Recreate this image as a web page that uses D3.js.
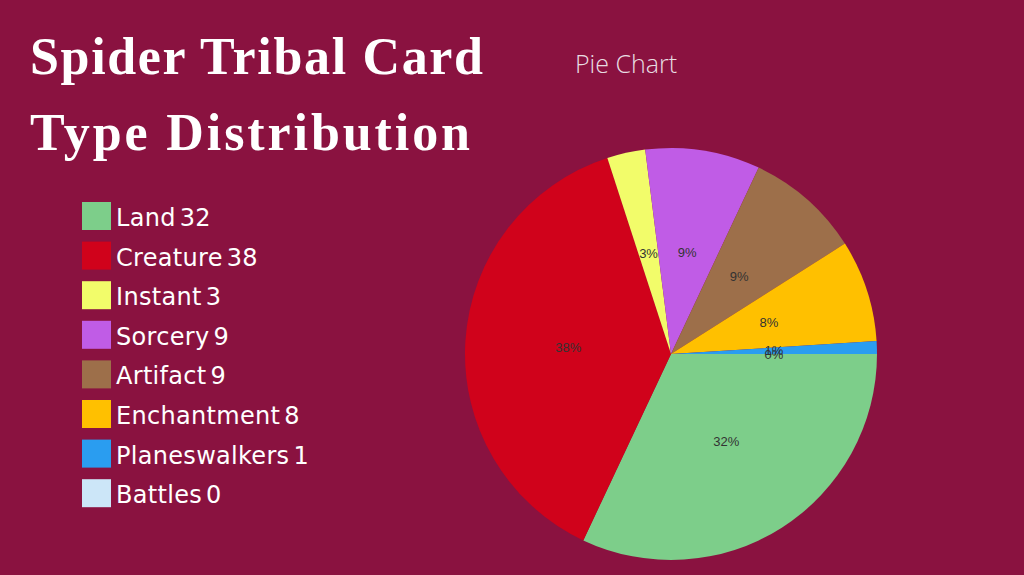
<!DOCTYPE html><html><head><meta charset="utf-8">
<script src="https://cdn.jsdelivr.net/npm/d3@7"></script>
<style>body{margin:0;background:#8a1240;}</style></head><body>
<svg id="c" width="1024" height="575"></svg>
<script>
const categories=["Land","Creature","Instant","Sorcery","Artifact","Enchantment","Planeswalkers","Battles"];
const values=[32,38,3,9,9,8,1,0];
const colors=["#7dce8a","#d0021b","#f2fc6a","#c05ce6","#9d6f4a","#ffc000","#2a9df0","#cce6f8"];
const svg=d3.select("#c");
svg.append("rect").attr("width",1024).attr("height",575).attr("fill","#8a1240");
const t=svg.append("text").attr("fill","#fff").attr("font-family","Liberation Serif, serif").attr("font-weight","bold").attr("font-size",52);
t.append("tspan").attr("x",30).attr("y",74).attr("textLength",453).text("Spider Tribal Card");
t.append("tspan").attr("x",30).attr("y",150).attr("textLength",440).text("Type Distribution");
svg.append("text").attr("x",575).attr("y",73).attr("fill","#e8dde2").attr("font-family","Open Sans, sans-serif").attr("font-weight",300).attr("font-size",25).text("Pie Chart");
const lg=svg.append("g");
categories.forEach((c,i)=>{
  const y=202+i*39.6;
  lg.append("rect").attr("x",82).attr("y",y).attr("width",29).attr("height",28).attr("fill",colors[i]);
  const tx=lg.append("text").attr("x",116).attr("y",y+24).attr("fill","#fff").attr("font-family","DejaVu Sans, sans-serif").attr("font-size",24).attr("letter-spacing",0.3);
  tx.append("tspan").text(c);
  tx.append("tspan").attr("dx",4).text(values[i]);
});
const total=d3.sum(values);
const pie=d3.pie().sort(null).startAngle(Math.PI/2).endAngle(Math.PI/2+2*Math.PI)(values);
const r=206;
const arc=d3.arc().innerRadius(0).outerRadius(r);
const lab=d3.arc().innerRadius(r*0.5).outerRadius(r*0.5);
const g=svg.append("g").attr("transform","translate(671,354)");
g.selectAll("path").data(pie).join("path").attr("d",arc).attr("fill",(d,i)=>colors[i]);
g.selectAll("text").data(pie).join("text").attr("transform",d=>`translate(${lab.centroid(d)})`)
 .attr("text-anchor","middle").attr("dy","0.35em").attr("font-family","Liberation Sans, Arial, sans-serif").attr("font-size",13).attr("fill","#333")
 .text(d=>Math.round(d.data/total*100)+"%");
</script></body></html>
